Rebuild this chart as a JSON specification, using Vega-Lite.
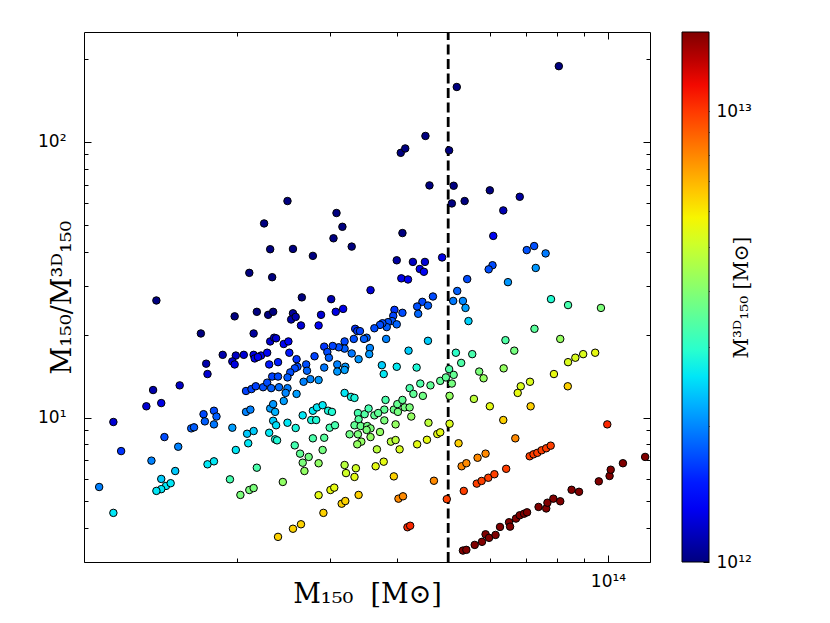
{
  "$schema": "https://vega.github.io/schema/vega-lite/v6.json",
  "background": "white",
  "padding": {"left": 37, "top": 30, "right": 5, "bottom": 5},
  "config": {
    "view": {"stroke": null},
    "axis": {
      "grid": false,
      "domainColor": "black",
      "domainWidth": 1,
      "tickColor": "black",
      "tickWidth": 1,
      "labelColor": "black",
      "titleColor": "black",
      "labelFont": "DejaVu Sans",
      "labelFontSize": 17,
      "titleFont": "DejaVu Serif",
      "titleFontWeight": "normal",
      "labelOverlap": false,
      "labelFlush": false
    }
  },
  "datasets": {
    "halos": [
      {"m150": 2.25e13, "ratio": 50.6, "m3d": 4.45e11},
      {"m150": 2.31e13, "ratio": 40.8, "m3d": 5.66e11},
      {"m150": 2.11e13, "ratio": 33.5, "m3d": 6.29e11},
      {"m150": 2.33e13, "ratio": 32.3, "m3d": 7.21e11},
      {"m150": 1.41e13, "ratio": 26.6, "m3d": 5.30e11},
      {"m150": 1.98e13, "ratio": 23.3, "m3d": 8.48e11},
      {"m150": 2.18e13, "ratio": 24.2, "m3d": 9.02e11},
      {"m150": 2.29e13, "ratio": 23.6, "m3d": 9.70e11},
      {"m150": 2.34e13, "ratio": 24.2, "m3d": 9.69e11},
      {"m150": 1.71e13, "ratio": 20.2, "m3d": 8.47e11},
      {"m150": 2.15e13, "ratio": 20.2, "m3d": 1.07e12},
      {"m150": 2.31e13, "ratio": 18.9, "m3d": 1.22e12},
      {"m150": 2.35e13, "ratio": 19.5, "m3d": 1.20e12},
      {"m150": 1.88e13, "ratio": 16.9, "m3d": 1.11e12},
      {"m150": 1.99e13, "ratio": 16.8, "m3d": 1.18e12},
      {"m150": 2.06e13, "ratio": 16.9, "m3d": 1.22e12},
      {"m150": 2.15e13, "ratio": 16.9, "m3d": 1.27e12},
      {"m150": 2.16e13, "ratio": 16.4, "m3d": 1.32e12},
      {"m150": 2.22e13, "ratio": 16.8, "m3d": 1.32e12},
      {"m150": 2.28e13, "ratio": 17.2, "m3d": 1.33e12},
      {"m150": 1.96e13, "ratio": 16.0, "m3d": 1.22e12},
      {"m150": 1.98e13, "ratio": 15.6, "m3d": 1.27e12},
      {"m150": 2.19e13, "ratio": 16.6, "m3d": 1.32e12},
      {"m150": 2.30e13, "ratio": 15.6, "m3d": 1.47e12},
      {"m150": 1.75e13, "ratio": 15.7, "m3d": 1.11e12},
      {"m150": 1.76e13, "ratio": 14.4, "m3d": 1.22e12},
      {"m150": 1.56e13, "ratio": 13.1, "m3d": 1.18e12},
      {"m150": 1.39e13, "ratio": 12.6, "m3d": 1.11e12},
      {"m150": 2.33e13, "ratio": 14.1, "m3d": 1.66e12},
      {"m150": 2.08e13, "ratio": 12.5, "m3d": 1.67e12},
      {"m150": 2.13e13, "ratio": 12.7, "m3d": 1.68e12},
      {"m150": 2.17e13, "ratio": 13.0, "m3d": 1.66e12},
      {"m150": 2.24e13, "ratio": 12.9, "m3d": 1.73e12},
      {"m150": 2.28e13, "ratio": 13.4, "m3d": 1.71e12},
      {"m150": 2.32e13, "ratio": 12.8, "m3d": 1.81e12},
      {"m150": 1.35e13, "ratio": 11.0, "m3d": 1.22e12},
      {"m150": 1.44e13, "ratio": 11.3, "m3d": 1.27e12},
      {"m150": 1.17e13, "ratio": 9.65, "m3d": 1.22e12},
      {"m150": 1.21e13, "ratio": 7.57, "m3d": 1.60e12},
      {"m150": 1.46e13, "ratio": 8.51, "m3d": 1.71e12},
      {"m150": 1.38e13, "ratio": 6.99, "m3d": 1.98e12},
      {"m150": 1.55e13, "ratio": 7.85, "m3d": 1.98e12},
      {"m150": 1.53e13, "ratio": 6.41, "m3d": 2.39e12},
      {"m150": 1.44e13, "ratio": 6.00, "m3d": 2.40e12},
      {"m150": 1.47e13, "ratio": 5.66, "m3d": 2.60e12},
      {"m150": 1.50e13, "ratio": 5.79, "m3d": 2.59e12},
      {"m150": 1.44e13, "ratio": 5.51, "m3d": 2.60e12},
      {"m150": 1.41e13, "ratio": 5.43, "m3d": 2.59e12},
      {"m150": 1.10e13, "ratio": 5.61, "m3d": 1.97e12},
      {"m150": 1.17e13, "ratio": 4.52, "m3d": 2.59e12},
      {"m150": 1.64e13, "ratio": 9.15, "m3d": 1.79e12},
      {"m150": 1.66e13, "ratio": 9.23, "m3d": 1.79e12},
      {"m150": 1.73e13, "ratio": 10.3, "m3d": 1.69e12},
      {"m150": 1.74e13, "ratio": 9.70, "m3d": 1.80e12},
      {"m150": 1.81e13, "ratio": 10.6, "m3d": 1.71e12},
      {"m150": 1.83e13, "ratio": 10.1, "m3d": 1.80e12},
      {"m150": 1.81e13, "ratio": 9.46, "m3d": 1.92e12},
      {"m150": 1.96e13, "ratio": 9.20, "m3d": 2.13e12},
      {"m150": 1.99e13, "ratio": 7.64, "m3d": 2.60e12},
      {"m150": 1.76e13, "ratio": 6.78, "m3d": 2.60e12},
      {"m150": 1.81e13, "ratio": 6.95, "m3d": 2.60e12},
      {"m150": 1.94e13, "ratio": 5.98, "m3d": 3.25e12},
      {"m150": 2.03e13, "ratio": 5.25, "m3d": 3.87e12},
      {"m150": 2.11e13, "ratio": 5.47, "m3d": 3.86e12},
      {"m150": 2.15e13, "ratio": 5.56, "m3d": 3.87e12},
      {"m150": 2.18e13, "ratio": 6.59, "m3d": 3.30e12},
      {"m150": 2.10e13, "ratio": 8.08, "m3d": 2.59e12},
      {"m150": 2.09e13, "ratio": 8.75, "m3d": 2.39e12},
      {"m150": 2.15e13, "ratio": 8.95, "m3d": 2.40e12},
      {"m150": 2.08e13, "ratio": 10.5, "m3d": 1.98e12},
      {"m150": 2.12e13, "ratio": 10.7, "m3d": 1.97e12},
      {"m150": 2.31e13, "ratio": 10.8, "m3d": 2.13e12},
      {"m150": 2.34e13, "ratio": 11.2, "m3d": 2.09e12},
      {"m150": 2.30e13, "ratio": 8.82, "m3d": 2.61e12},
      {"m150": 2.34e13, "ratio": 9.75, "m3d": 2.40e12},
      {"m150": 2.36e13, "ratio": 8.35, "m3d": 2.82e12},
      {"m150": 5.19e13, "ratio": 158, "m3d": 3.29e11},
      {"m150": 4.53e13, "ratio": 105, "m3d": 4.31e11},
      {"m150": 4.07e13, "ratio": 91.2, "m3d": 4.46e11},
      {"m150": 4.15e13, "ratio": 94.6, "m3d": 4.38e11},
      {"m150": 5.02e13, "ratio": 93.1, "m3d": 5.39e11},
      {"m150": 4.61e13, "ratio": 69.5, "m3d": 6.63e11},
      {"m150": 5.12e13, "ratio": 69.3, "m3d": 7.39e11},
      {"m150": 5.08e13, "ratio": 59.8, "m3d": 8.50e11},
      {"m150": 5.37e13, "ratio": 61.0, "m3d": 8.81e11},
      {"m150": 2.49e13, "ratio": 61.0, "m3d": 4.08e11},
      {"m150": 3.08e13, "ratio": 55.2, "m3d": 5.58e11},
      {"m150": 8.08e13, "ratio": 188, "m3d": 4.30e11},
      {"m150": 5.99e13, "ratio": 66.7, "m3d": 8.99e11},
      {"m150": 6.35e13, "ratio": 56.4, "m3d": 1.13e12},
      {"m150": 6.82e13, "ratio": 63.2, "m3d": 1.08e12},
      {"m150": 3.16e13, "ratio": 49.2, "m3d": 6.42e11},
      {"m150": 3.04e13, "ratio": 44.7, "m3d": 6.80e11},
      {"m150": 3.29e13, "ratio": 41.7, "m3d": 7.90e11},
      {"m150": 4.10e13, "ratio": 46.7, "m3d": 8.78e11},
      {"m150": 2.55e13, "ratio": 40.9, "m3d": 6.25e11},
      {"m150": 2.78e13, "ratio": 38.6, "m3d": 7.21e11},
      {"m150": 4.00e13, "ratio": 37.2, "m3d": 1.08e12},
      {"m150": 4.29e13, "ratio": 36.7, "m3d": 1.17e12},
      {"m150": 4.52e13, "ratio": 36.7, "m3d": 1.23e12},
      {"m150": 4.42e13, "ratio": 34.6, "m3d": 1.28e12},
      {"m150": 4.50e13, "ratio": 33.8, "m3d": 1.33e12},
      {"m150": 4.87e13, "ratio": 38.1, "m3d": 1.28e12},
      {"m150": 4.08e13, "ratio": 32.0, "m3d": 1.28e12},
      {"m150": 4.20e13, "ratio": 31.7, "m3d": 1.32e12},
      {"m150": 3.57e13, "ratio": 29.0, "m3d": 1.23e12},
      {"m150": 2.65e13, "ratio": 27.3, "m3d": 9.70e11},
      {"m150": 3.01e13, "ratio": 26.9, "m3d": 1.12e12},
      {"m150": 2.55e13, "ratio": 23.9, "m3d": 1.07e12},
      {"m150": 2.53e13, "ratio": 22.7, "m3d": 1.11e12},
      {"m150": 2.58e13, "ratio": 23.2, "m3d": 1.11e12},
      {"m150": 2.64e13, "ratio": 21.6, "m3d": 1.22e12},
      {"m150": 2.88e13, "ratio": 23.6, "m3d": 1.22e12},
      {"m150": 3.07e13, "ratio": 24.2, "m3d": 1.27e12},
      {"m150": 3.17e13, "ratio": 24.8, "m3d": 1.28e12},
      {"m150": 2.85e13, "ratio": 21.6, "m3d": 1.32e12},
      {"m150": 4.68e13, "ratio": 27.5, "m3d": 1.70e12},
      {"m150": 4.47e13, "ratio": 26.3, "m3d": 1.70e12},
      {"m150": 4.37e13, "ratio": 25.3, "m3d": 1.73e12},
      {"m150": 4.58e13, "ratio": 25.5, "m3d": 1.80e12},
      {"m150": 4.39e13, "ratio": 23.8, "m3d": 1.84e12},
      {"m150": 4.10e13, "ratio": 24.0, "m3d": 1.71e12},
      {"m150": 3.96e13, "ratio": 24.6, "m3d": 1.61e12},
      {"m150": 3.94e13, "ratio": 23.4, "m3d": 1.68e12},
      {"m150": 3.92e13, "ratio": 22.4, "m3d": 1.75e12},
      {"m150": 4.00e13, "ratio": 21.8, "m3d": 1.83e12},
      {"m150": 3.85e13, "ratio": 22.2, "m3d": 1.74e12},
      {"m150": 3.83e13, "ratio": 21.3, "m3d": 1.80e12},
      {"m150": 3.76e13, "ratio": 22.0, "m3d": 1.71e12},
      {"m150": 3.72e13, "ratio": 21.7, "m3d": 1.72e12},
      {"m150": 3.63e13, "ratio": 21.1, "m3d": 1.72e12},
      {"m150": 3.34e13, "ratio": 21.0, "m3d": 1.59e12},
      {"m150": 3.37e13, "ratio": 20.6, "m3d": 1.64e12},
      {"m150": 3.41e13, "ratio": 20.6, "m3d": 1.66e12},
      {"m150": 3.32e13, "ratio": 19.3, "m3d": 1.72e12},
      {"m150": 3.51e13, "ratio": 19.5, "m3d": 1.80e12},
      {"m150": 3.47e13, "ratio": 19.3, "m3d": 1.80e12},
      {"m150": 3.82e13, "ratio": 19.3, "m3d": 1.98e12},
      {"m150": 4.58e13, "ratio": 19.0, "m3d": 2.41e12},
      {"m150": 4.21e13, "ratio": 17.5, "m3d": 2.41e12},
      {"m150": 3.56e13, "ratio": 17.9, "m3d": 1.99e12},
      {"m150": 3.55e13, "ratio": 17.0, "m3d": 2.09e12},
      {"m150": 3.39e13, "ratio": 16.3, "m3d": 2.08e12},
      {"m150": 3.29e13, "ratio": 17.1, "m3d": 1.92e12},
      {"m150": 3.19e13, "ratio": 18.9, "m3d": 1.69e12},
      {"m150": 3.19e13, "ratio": 17.8, "m3d": 1.80e12},
      {"m150": 3.11e13, "ratio": 18.0, "m3d": 1.73e12},
      {"m150": 3.03e13, "ratio": 18.2, "m3d": 1.67e12},
      {"m150": 2.92e13, "ratio": 18.1, "m3d": 1.61e12},
      {"m150": 2.96e13, "ratio": 17.3, "m3d": 1.71e12},
      {"m150": 2.98e13, "ratio": 16.5, "m3d": 1.81e12},
      {"m150": 2.80e13, "ratio": 16.7, "m3d": 1.67e12},
      {"m150": 2.37e13, "ratio": 19.4, "m3d": 1.22e12},
      {"m150": 2.45e13, "ratio": 18.5, "m3d": 1.32e12},
      {"m150": 2.50e13, "ratio": 18.9, "m3d": 1.33e12},
      {"m150": 2.51e13, "ratio": 17.2, "m3d": 1.46e12},
      {"m150": 2.39e13, "ratio": 15.9, "m3d": 1.51e12},
      {"m150": 2.59e13, "ratio": 16.3, "m3d": 1.59e12},
      {"m150": 2.60e13, "ratio": 15.3, "m3d": 1.70e12},
      {"m150": 2.70e13, "ratio": 15.6, "m3d": 1.73e12},
      {"m150": 2.71e13, "ratio": 14.8, "m3d": 1.83e12},
      {"m150": 2.57e13, "ratio": 15.1, "m3d": 1.70e12},
      {"m150": 2.52e13, "ratio": 14.6, "m3d": 1.72e12},
      {"m150": 2.49e13, "ratio": 14.0, "m3d": 1.79e12},
      {"m150": 2.39e13, "ratio": 14.1, "m3d": 1.70e12},
      {"m150": 2.75e13, "ratio": 13.8, "m3d": 1.99e12},
      {"m150": 2.85e13, "ratio": 13.7, "m3d": 2.09e12},
      {"m150": 2.67e13, "ratio": 13.5, "m3d": 1.98e12},
      {"m150": 2.92e13, "ratio": 15.2, "m3d": 1.92e12},
      {"m150": 3.09e13, "ratio": 15.6, "m3d": 1.98e12},
      {"m150": 3.20e13, "ratio": 15.3, "m3d": 2.09e12},
      {"m150": 3.09e13, "ratio": 14.7, "m3d": 2.10e12},
      {"m150": 3.19e13, "ratio": 14.9, "m3d": 2.15e12},
      {"m150": 2.40e13, "ratio": 12.9, "m3d": 1.87e12},
      {"m150": 2.49e13, "ratio": 12.8, "m3d": 1.95e12},
      {"m150": 3.75e13, "ratio": 15.5, "m3d": 2.42e12},
      {"m150": 3.78e13, "ratio": 14.4, "m3d": 2.62e12},
      {"m150": 4.00e13, "ratio": 15.3, "m3d": 2.62e12},
      {"m150": 4.36e13, "ratio": 15.2, "m3d": 2.87e12},
      {"m150": 4.23e13, "ratio": 12.8, "m3d": 3.31e12},
      {"m150": 4.43e13, "ratio": 13.3, "m3d": 3.35e12},
      {"m150": 4.63e13, "ratio": 13.1, "m3d": 3.54e12},
      {"m150": 4.83e13, "ratio": 13.6, "m3d": 3.56e12},
      {"m150": 4.95e13, "ratio": 14.0, "m3d": 3.54e12},
      {"m150": 5.02e13, "ratio": 15.0, "m3d": 3.35e12},
      {"m150": 5.12e13, "ratio": 14.3, "m3d": 3.58e12},
      {"m150": 5.08e13, "ratio": 13.3, "m3d": 3.81e12},
      {"m150": 5.17e13, "ratio": 17.2, "m3d": 3.00e12},
      {"m150": 5.29e13, "ratio": 15.8, "m3d": 3.34e12},
      {"m150": 5.20e13, "ratio": 28.8, "m3d": 1.81e12},
      {"m150": 5.11e13, "ratio": 26.5, "m3d": 1.93e12},
      {"m150": 5.33e13, "ratio": 26.5, "m3d": 2.01e12},
      {"m150": 2.47e13, "ratio": 12.3, "m3d": 2.00e12},
      {"m150": 2.59e13, "ratio": 12.2, "m3d": 2.13e12},
      {"m150": 2.45e13, "ratio": 11.5, "m3d": 2.13e12},
      {"m150": 2.36e13, "ratio": 10.5, "m3d": 2.25e12},
      {"m150": 2.37e13, "ratio": 9.39, "m3d": 2.53e12},
      {"m150": 2.49e13, "ratio": 9.59, "m3d": 2.60e12},
      {"m150": 2.58e13, "ratio": 9.18, "m3d": 2.81e12},
      {"m150": 2.38e13, "ratio": 8.28, "m3d": 2.88e12},
      {"m150": 2.66e13, "ratio": 10.2, "m3d": 2.60e12},
      {"m150": 2.76e13, "ratio": 9.81, "m3d": 2.81e12},
      {"m150": 2.78e13, "ratio": 10.6, "m3d": 2.61e12},
      {"m150": 2.83e13, "ratio": 10.9, "m3d": 2.59e12},
      {"m150": 2.90e13, "ratio": 11.1, "m3d": 2.61e12},
      {"m150": 2.82e13, "ratio": 9.81, "m3d": 2.88e12},
      {"m150": 2.97e13, "ratio": 10.6, "m3d": 2.81e12},
      {"m150": 3.02e13, "ratio": 10.5, "m3d": 2.89e12},
      {"m150": 2.99e13, "ratio": 9.20, "m3d": 3.25e12},
      {"m150": 3.06e13, "ratio": 9.39, "m3d": 3.27e12},
      {"m150": 2.78e13, "ratio": 8.42, "m3d": 3.31e12},
      {"m150": 2.92e13, "ratio": 8.46, "m3d": 3.45e12},
      {"m150": 2.57e13, "ratio": 7.94, "m3d": 3.24e12},
      {"m150": 2.63e13, "ratio": 7.41, "m3d": 3.55e12},
      {"m150": 2.73e13, "ratio": 7.21, "m3d": 3.79e12},
      {"m150": 2.66e13, "ratio": 6.87, "m3d": 3.87e12},
      {"m150": 2.68e13, "ratio": 6.41, "m3d": 4.18e12},
      {"m150": 2.90e13, "ratio": 7.64, "m3d": 3.80e12},
      {"m150": 2.85e13, "ratio": 6.84, "m3d": 4.17e12},
      {"m150": 2.44e13, "ratio": 5.85, "m3d": 4.17e12},
      {"m150": 3.19e13, "ratio": 12.3, "m3d": 2.60e12},
      {"m150": 3.28e13, "ratio": 11.9, "m3d": 2.76e12},
      {"m150": 3.33e13, "ratio": 11.8, "m3d": 2.82e12},
      {"m150": 3.38e13, "ratio": 10.4, "m3d": 3.26e12},
      {"m150": 3.48e13, "ratio": 10.3, "m3d": 3.37e12},
      {"m150": 3.54e13, "ratio": 10.8, "m3d": 3.26e12},
      {"m150": 3.39e13, "ratio": 9.87, "m3d": 3.44e12},
      {"m150": 3.33e13, "ratio": 9.39, "m3d": 3.55e12},
      {"m150": 3.42e13, "ratio": 9.33, "m3d": 3.67e12},
      {"m150": 3.52e13, "ratio": 9.33, "m3d": 3.77e12},
      {"m150": 3.57e13, "ratio": 9.15, "m3d": 3.90e12},
      {"m150": 3.51e13, "ratio": 9.03, "m3d": 3.89e12},
      {"m150": 3.38e13, "ratio": 8.71, "m3d": 3.88e12},
      {"m150": 3.26e13, "ratio": 8.71, "m3d": 3.74e12},
      {"m150": 3.57e13, "ratio": 8.51, "m3d": 4.19e12},
      {"m150": 3.63e13, "ratio": 10.2, "m3d": 3.56e12},
      {"m150": 3.81e13, "ratio": 11.6, "m3d": 3.30e12},
      {"m150": 3.79e13, "ratio": 10.7, "m3d": 3.55e12},
      {"m150": 3.69e13, "ratio": 10.4, "m3d": 3.54e12},
      {"m150": 3.79e13, "ratio": 9.78, "m3d": 3.87e12},
      {"m150": 3.72e13, "ratio": 8.88, "m3d": 4.19e12},
      {"m150": 3.98e13, "ratio": 9.46, "m3d": 4.20e12},
      {"m150": 3.95e13, "ratio": 10.7, "m3d": 3.69e12},
      {"m150": 4.01e13, "ratio": 11.2, "m3d": 3.60e12},
      {"m150": 4.10e13, "ratio": 11.6, "m3d": 3.54e12},
      {"m150": 4.14e13, "ratio": 10.9, "m3d": 3.81e12},
      {"m150": 4.23e13, "ratio": 10.9, "m3d": 3.87e12},
      {"m150": 4.26e13, "ratio": 10.1, "m3d": 4.20e12},
      {"m150": 4.02e13, "ratio": 10.5, "m3d": 3.82e12},
      {"m150": 4.30e13, "ratio": 12.2, "m3d": 3.54e12},
      {"m150": 4.48e13, "ratio": 12.0, "m3d": 3.74e12},
      {"m150": 3.43e13, "ratio": 8.19, "m3d": 4.19e12},
      {"m150": 3.37e13, "ratio": 8.01, "m3d": 4.21e12},
      {"m150": 3.67e13, "ratio": 7.68, "m3d": 4.77e12},
      {"m150": 3.90e13, "ratio": 8.19, "m3d": 4.76e12},
      {"m150": 3.98e13, "ratio": 8.30, "m3d": 4.79e12},
      {"m150": 4.05e13, "ratio": 7.68, "m3d": 5.27e12},
      {"m150": 4.37e13, "ratio": 8.01, "m3d": 5.45e12},
      {"m150": 4.56e13, "ratio": 8.32, "m3d": 5.47e12},
      {"m150": 4.77e13, "ratio": 8.73, "m3d": 5.47e12},
      {"m150": 4.83e13, "ratio": 8.85, "m3d": 5.45e12},
      {"m150": 4.59e13, "ratio": 9.59, "m3d": 4.79e12},
      {"m150": 5.03e13, "ratio": 9.51, "m3d": 5.28e12},
      {"m150": 5.03e13, "ratio": 12.0, "m3d": 4.19e12},
      {"m150": 3.19e13, "ratio": 6.74, "m3d": 4.73e12},
      {"m150": 3.21e13, "ratio": 6.30, "m3d": 5.10e12},
      {"m150": 3.35e13, "ratio": 6.56, "m3d": 5.11e12},
      {"m150": 3.33e13, "ratio": 6.10, "m3d": 5.46e12},
      {"m150": 3.65e13, "ratio": 6.67, "m3d": 5.47e12},
      {"m150": 3.78e13, "ratio": 6.93, "m3d": 5.46e12},
      {"m150": 3.95e13, "ratio": 6.13, "m3d": 6.45e12},
      {"m150": 2.85e13, "ratio": 5.24, "m3d": 5.45e12},
      {"m150": 3.00e13, "ratio": 5.47, "m3d": 5.49e12},
      {"m150": 3.05e13, "ratio": 5.58, "m3d": 5.47e12},
      {"m150": 3.15e13, "ratio": 4.88, "m3d": 6.45e12},
      {"m150": 3.20e13, "ratio": 4.99, "m3d": 6.42e12},
      {"m150": 3.39e13, "ratio": 5.25, "m3d": 6.47e12},
      {"m150": 2.91e13, "ratio": 4.52, "m3d": 6.44e12},
      {"m150": 2.64e13, "ratio": 4.11, "m3d": 6.41e12},
      {"m150": 2.55e13, "ratio": 3.96, "m3d": 6.43e12},
      {"m150": 2.39e13, "ratio": 3.70, "m3d": 6.45e12},
      {"m150": 4.03e13, "ratio": 5.09, "m3d": 7.92e12},
      {"m150": 4.11e13, "ratio": 5.19, "m3d": 7.92e12},
      {"m150": 4.19e13, "ratio": 4.01, "m3d": 1.05e13},
      {"m150": 4.24e13, "ratio": 4.06, "m3d": 1.05e13},
      {"m150": 4.70e13, "ratio": 5.91, "m3d": 7.94e12},
      {"m150": 4.97e13, "ratio": 5.07, "m3d": 9.79e12},
      {"m150": 5.23e13, "ratio": 8.08, "m3d": 6.48e12},
      {"m150": 5.30e13, "ratio": 6.67, "m3d": 7.95e12},
      {"m150": 5.35e13, "ratio": 5.43, "m3d": 9.86e12},
      {"m150": 5.33e13, "ratio": 3.30, "m3d": 1.62e13},
      {"m150": 6.08e13, "ratio": 45.6, "m3d": 1.33e12},
      {"m150": 7.03e13, "ratio": 40.5, "m3d": 1.74e12},
      {"m150": 7.26e13, "ratio": 41.9, "m3d": 1.73e12},
      {"m150": 7.63e13, "ratio": 39.4, "m3d": 1.94e12},
      {"m150": 6.06e13, "ratio": 35.7, "m3d": 1.70e12},
      {"m150": 5.96e13, "ratio": 34.5, "m3d": 1.73e12},
      {"m150": 7.31e13, "ratio": 34.9, "m3d": 2.10e12},
      {"m150": 6.48e13, "ratio": 31.0, "m3d": 2.09e12},
      {"m150": 5.43e13, "ratio": 31.8, "m3d": 1.71e12},
      {"m150": 5.39e13, "ratio": 25.0, "m3d": 2.15e12},
      {"m150": 5.46e13, "ratio": 22.4, "m3d": 2.44e12},
      {"m150": 7.81e13, "ratio": 26.9, "m3d": 2.91e12},
      {"m150": 8.41e13, "ratio": 25.6, "m3d": 3.28e12},
      {"m150": 9.70e13, "ratio": 25.0, "m3d": 3.89e12},
      {"m150": 7.27e13, "ratio": 21.0, "m3d": 3.47e12},
      {"m150": 6.41e13, "ratio": 19.1, "m3d": 3.36e12},
      {"m150": 6.66e13, "ratio": 17.5, "m3d": 3.81e12},
      {"m150": 8.13e13, "ratio": 19.3, "m3d": 4.22e12},
      {"m150": 5.55e13, "ratio": 17.0, "m3d": 3.27e12},
      {"m150": 5.72e13, "ratio": 14.7, "m3d": 3.88e12},
      {"m150": 5.83e13, "ratio": 13.9, "m3d": 4.20e12},
      {"m150": 6.36e13, "ratio": 15.1, "m3d": 4.20e12},
      {"m150": 8.41e13, "ratio": 15.9, "m3d": 5.28e12},
      {"m150": 8.68e13, "ratio": 16.5, "m3d": 5.27e12},
      {"m150": 8.98e13, "ratio": 17.0, "m3d": 5.29e12},
      {"m150": 9.46e13, "ratio": 17.2, "m3d": 5.50e12},
      {"m150": 7.91e13, "ratio": 14.4, "m3d": 5.49e12},
      {"m150": 7.13e13, "ratio": 13.5, "m3d": 5.29e12},
      {"m150": 6.85e13, "ratio": 13.0, "m3d": 5.29e12},
      {"m150": 8.40e13, "ratio": 13.0, "m3d": 6.46e12},
      {"m150": 5.59e13, "ratio": 11.7, "m3d": 4.79e12},
      {"m150": 5.99e13, "ratio": 11.0, "m3d": 5.46e12},
      {"m150": 6.76e13, "ratio": 12.3, "m3d": 5.48e12},
      {"m150": 7.15e13, "ratio": 11.0, "m3d": 6.49e12},
      {"m150": 6.35e13, "ratio": 9.81, "m3d": 6.47e12},
      {"m150": 6.69e13, "ratio": 8.42, "m3d": 7.94e12},
      {"m150": 9.97e13, "ratio": 9.46, "m3d": 1.05e13},
      {"m150": 5.41e13, "ratio": 6.84, "m3d": 7.92e12},
      {"m150": 5.68e13, "ratio": 7.16, "m3d": 7.93e12},
      {"m150": 5.88e13, "ratio": 7.41, "m3d": 7.94e12},
      {"m150": 6.43e13, "ratio": 6.53, "m3d": 9.84e12},
      {"m150": 5.66e13, "ratio": 5.77, "m3d": 9.81e12},
      {"m150": 5.78e13, "ratio": 5.90, "m3d": 9.79e12},
      {"m150": 5.95e13, "ratio": 6.06, "m3d": 9.81e12},
      {"m150": 6.11e13, "ratio": 6.24, "m3d": 9.80e12},
      {"m150": 7.12e13, "ratio": 7.25, "m3d": 9.82e12},
      {"m150": 7.24e13, "ratio": 7.37, "m3d": 9.83e12},
      {"m150": 7.36e13, "ratio": 7.46, "m3d": 9.85e12},
      {"m150": 7.50e13, "ratio": 7.62, "m3d": 9.84e12},
      {"m150": 7.65e13, "ratio": 7.75, "m3d": 9.87e12},
      {"m150": 7.80e13, "ratio": 7.92, "m3d": 9.85e12},
      {"m150": 5.41e13, "ratio": 3.32, "m3d": 1.63e13},
      {"m150": 5.61e13, "ratio": 3.46, "m3d": 1.62e13},
      {"m150": 5.79e13, "ratio": 3.55, "m3d": 1.63e13},
      {"m150": 5.88e13, "ratio": 3.78, "m3d": 1.56e13},
      {"m150": 5.97e13, "ratio": 3.67, "m3d": 1.63e13},
      {"m150": 6.14e13, "ratio": 3.76, "m3d": 1.63e13},
      {"m150": 6.26e13, "ratio": 4.02, "m3d": 1.56e13},
      {"m150": 6.51e13, "ratio": 4.18, "m3d": 1.56e13},
      {"m150": 6.54e13, "ratio": 4.03, "m3d": 1.62e13},
      {"m150": 6.71e13, "ratio": 4.31, "m3d": 1.56e13},
      {"m150": 6.82e13, "ratio": 4.43, "m3d": 1.54e13},
      {"m150": 6.95e13, "ratio": 4.49, "m3d": 1.55e13},
      {"m150": 7.04e13, "ratio": 4.54, "m3d": 1.55e13},
      {"m150": 7.40e13, "ratio": 4.75, "m3d": 1.56e13},
      {"m150": 7.65e13, "ratio": 4.69, "m3d": 1.63e13},
      {"m150": 7.69e13, "ratio": 4.92, "m3d": 1.56e13},
      {"m150": 7.89e13, "ratio": 5.09, "m3d": 1.55e13},
      {"m150": 8.13e13, "ratio": 4.98, "m3d": 1.63e13},
      {"m150": 8.54e13, "ratio": 5.48, "m3d": 1.56e13},
      {"m150": 8.82e13, "ratio": 5.39, "m3d": 1.64e13},
      {"m150": 9.61e13, "ratio": 5.88, "m3d": 1.63e13},
      {"m150": 1.007e14, "ratio": 6.15, "m3d": 1.64e13},
      {"m150": 1.012e14, "ratio": 6.48, "m3d": 1.56e13},
      {"m150": 1.067e14, "ratio": 6.84, "m3d": 1.56e13},
      {"m150": 1.175e14, "ratio": 7.21, "m3d": 1.63e13}
    ],
    "cut": [{"m150": 5e13}],
    "cbar": [{"lo": 1e12, "hi": 1.5e13}]
  },
  "hconcat": [
    {
      "width": 566,
      "height": 530,
      "layer": [
        {
          "data": {"name": "cut"},
          "mark": {"type": "rule", "color": "black", "strokeWidth": 2.8, "strokeDash": [10, 4.5]},
          "encoding": {
            "x": {
              "field": "m150",
              "type": "quantitative",
              "axis": {
                "orient": "bottom",
                "title": null,
                "labels": false,
                "values": [2e13, 3e13, 4e13, 5e13, 6e13, 7e13, 8e13, 9e13, 1e14],
                "tickSize": {"condition": {"test": "datum.value === 1e14", "value": -7}, "value": -4}
              }
            },
            "y": {
              "datum": 3,
              "type": "quantitative",
              "axis": {
                "orient": "left",
                "title": null,
                "labels": false,
                "values": [3, 4, 5, 6, 7, 8, 9, 10, 20, 30, 40, 50, 60, 70, 80, 90, 100, 200],
                "tickSize": {"condition": {"test": "datum.value === 10 || datum.value === 100", "value": -7}, "value": -4}
              }
            },
            "y2": {"datum": 250}
          }
        },
        {
          "data": {"name": "cut"},
          "mark": {"type": "rule", "opacity": 0},
          "encoding": {
            "x": {
              "field": "m150",
              "type": "quantitative",
              "axis": {
                "orient": "top",
                "title": null,
                "labels": false,
                "values": [2e13, 3e13, 4e13, 5e13, 6e13, 7e13, 8e13, 9e13, 1e14],
                "tickSize": {"condition": {"test": "datum.value === 1e14", "value": -7}, "value": -4}
              }
            },
            "y": {
              "datum": 3,
              "type": "quantitative",
              "axis": {
                "orient": "right",
                "title": null,
                "labels": false,
                "values": [3, 4, 5, 6, 7, 8, 9, 10, 20, 30, 40, 50, 60, 70, 80, 90, 100, 200],
                "tickSize": {"condition": {"test": "datum.value === 10 || datum.value === 100", "value": -7}, "value": -4}
              }
            },
            "y2": {"datum": 250}
          }
        },
        {
          "data": {"name": "halos"},
          "mark": {"type": "circle", "size": 56, "opacity": 1, "stroke": "black", "strokeWidth": 1},
          "encoding": {
            "x": {
              "field": "m150",
              "type": "quantitative",
              "scale": {"type": "log", "domain": [1.03e13, 1.2e14], "nice": false},
              "axis": {
                "orient": "bottom",
                "domain": false,
                "ticks": false,
                "title": "M₁₅₀\u00a0\u00a0[M⊙]",
                "titleFontSize": 27,
                "titleY": 40,
                "titleBaseline": "alphabetic",
                "values": [1e14],
                "labelExpr": "'10¹⁴'",
                "labelPadding": 11
              }
            },
            "y": {
              "field": "ratio",
              "type": "quantitative",
              "scale": {"type": "log", "domain": [3, 250], "nice": false},
              "axis": {
                "orient": "left",
                "domain": false,
                "ticks": false,
                "title": "M₁₅₀/M³ᴰ₁₅₀",
                "titleFontSize": 27,
                "titleAngle": 270,
                "titleX": -14,
                "titleY": 265,
                "titleAlign": "center",
                "titleBaseline": "alphabetic",
                "values": [10, 100],
                "labelExpr": "datum.value === 10 ? '10¹' : '10²'",
                "labelPadding": 18
              }
            },
            "color": {
              "field": "m3d",
              "type": "quantitative",
              "legend": null,
              "scale": {
                "type": "log",
                "domain": [1e12, 1.5e13],
                "nice": false,
                "clamp": true,
                "interpolate": "rgb",
                "range": ["#000080", "#0000b9", "#0000f3", "#001aff", "#004dff", "#0080ff", "#00b3ff", "#00e6f7", "#29ffce", "#52ffa4", "#7bff7b", "#a4ff52", "#ceff29", "#f7f500", "#ffc600", "#ff9700", "#ff6800", "#ff3900", "#f30900", "#b90000", "#800000"]
              }
            }
          }
        }
      ],
      "resolve": {"axis": {"x": "independent", "y": "independent"}}
    },
    {
      "width": 27,
      "height": 530,
      "data": {"name": "cbar"},
      "mark": {
        "type": "rect",
        "stroke": "black",
        "strokeWidth": 1,
        "fill": {
          "gradient": "linear",
          "x1": 0, "y1": 1, "x2": 0, "y2": 0,
          "stops": [
            {"offset": 0.00, "color": "#000080"},
            {"offset": 0.05, "color": "#0000b9"},
            {"offset": 0.10, "color": "#0000f3"},
            {"offset": 0.15, "color": "#001aff"},
            {"offset": 0.20, "color": "#004dff"},
            {"offset": 0.25, "color": "#0080ff"},
            {"offset": 0.30, "color": "#00b3ff"},
            {"offset": 0.35, "color": "#00e6f7"},
            {"offset": 0.40, "color": "#29ffce"},
            {"offset": 0.45, "color": "#52ffa4"},
            {"offset": 0.50, "color": "#7bff7b"},
            {"offset": 0.55, "color": "#a4ff52"},
            {"offset": 0.60, "color": "#ceff29"},
            {"offset": 0.65, "color": "#f7f500"},
            {"offset": 0.70, "color": "#ffc600"},
            {"offset": 0.75, "color": "#ff9700"},
            {"offset": 0.80, "color": "#ff6800"},
            {"offset": 0.85, "color": "#ff3900"},
            {"offset": 0.90, "color": "#f30900"},
            {"offset": 0.95, "color": "#b90000"},
            {"offset": 1.00, "color": "#800000"}
          ]
        }
      },
      "encoding": {
        "y": {
          "field": "lo",
          "type": "quantitative",
          "scale": {"type": "log", "domain": [1e12, 1.5e13], "nice": false},
          "axis": {
            "orient": "right",
            "domain": false,
            "title": "M³ᴰ₁₅₀ [M⊙]",
            "titleFontSize": 20,
            "titleAngle": 270,
            "titleX": 38,
            "titleY": 265,
            "titleAlign": "center",
            "titleBaseline": "alphabetic",
            "values": [1e12, 2e12, 3e12, 4e12, 5e12, 6e12, 7e12, 8e12, 9e12, 1e13],
            "labelExpr": "datum.value === 1e12 ? '10¹²' : datum.value === 1e13 ? '10¹³' : ''",
            "labelPadding": 13,
            "tickSize": -6
          }
        },
        "y2": {"field": "hi"}
      }
    }
  ],
  "spacing": 30
}
